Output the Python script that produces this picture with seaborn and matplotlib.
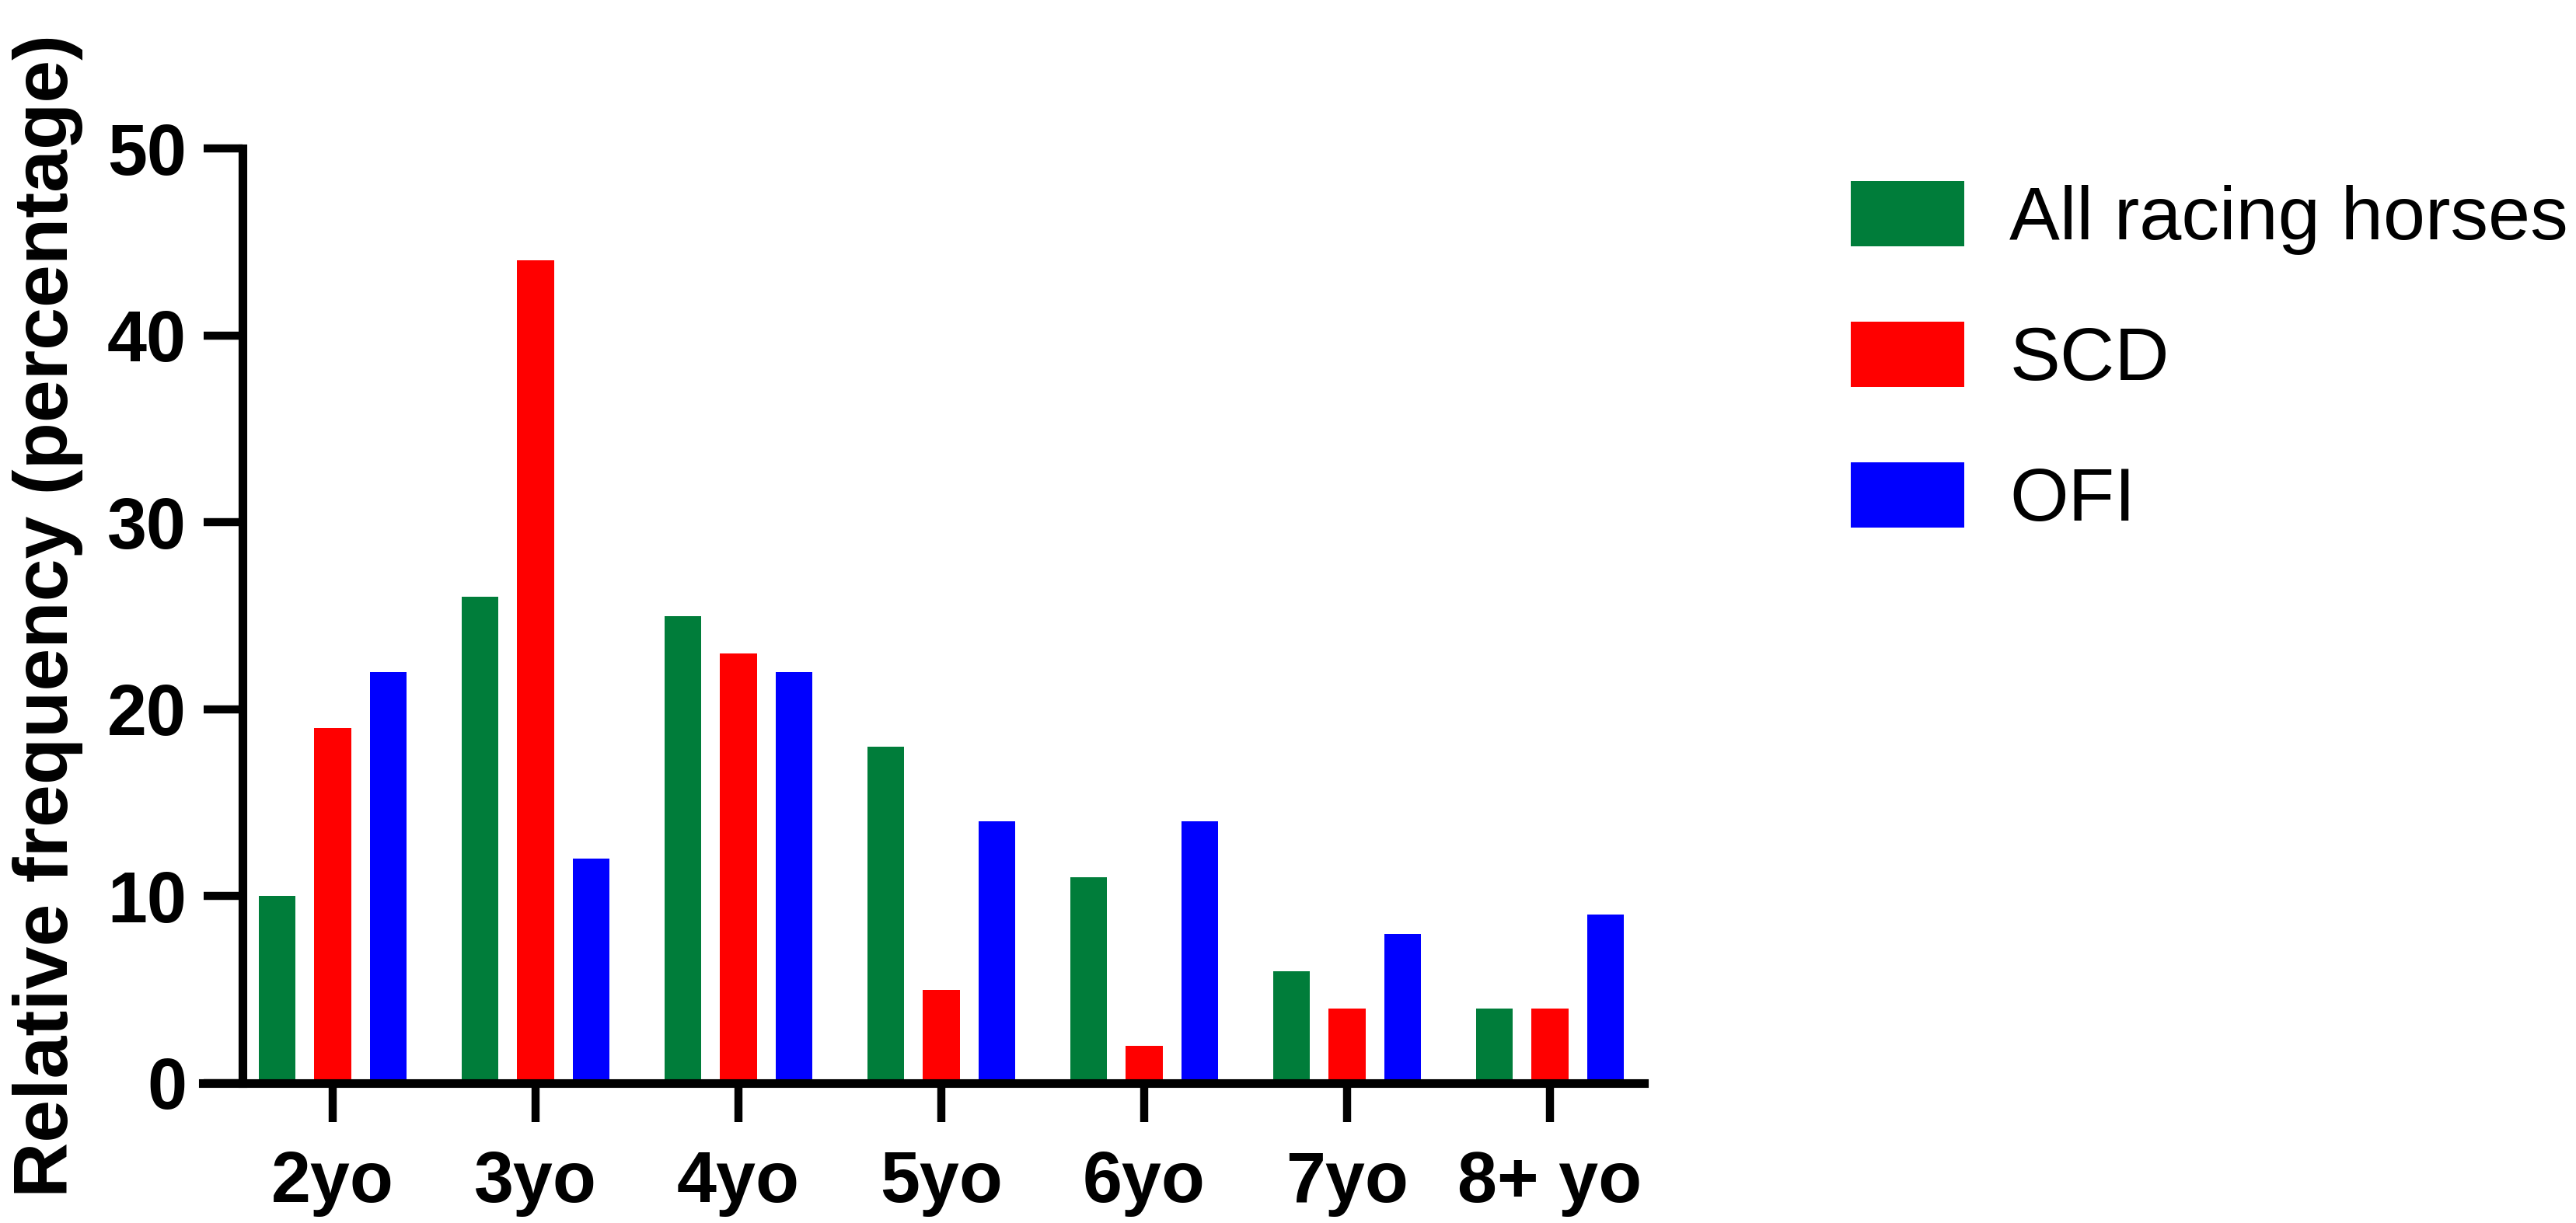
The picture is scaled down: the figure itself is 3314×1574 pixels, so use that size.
import matplotlib
matplotlib.use('Agg')
import matplotlib.pyplot as plt
import pandas as pd
import seaborn as sns

age_groups = ['2yo', '3yo', '4yo', '5yo', '6yo', '7yo', '8+ yo']
series_names = ['All racing horses', 'SCD', 'OFI']
all_racing = [10, 26, 25, 18, 11, 6, 4]
scd = [19, 44, 23, 5, 2, 4, 4]
ofi = [22, 12, 22, 14, 14, 8, 9]
bar_colors = ['#007D3A', '#FF0000', '#0000FF']

df = pd.DataFrame({
    'age': age_groups * 3,
    'group': [s for s in series_names for _ in age_groups],
    'value': all_racing + scd + ofi,
})

sns.set_style('ticks')
plt.rcParams['font.family'] = ['Liberation Sans', 'DejaVu Sans']
plt.rcParams['text.color'] = 'black'
plt.rcParams['axes.labelcolor'] = 'black'
plt.rcParams['xtick.color'] = 'black'
plt.rcParams['ytick.color'] = 'black'

fig = plt.figure(figsize=(33.14, 15.74), dpi=100)
ax = fig.add_axes([0.07876, 0.11436, 0.55944, 0.76429])

sns.barplot(data=df, x='age', y='value', hue='group', order=age_groups,
            hue_order=series_names, palette=bar_colors, width=0.823, gap=0.34,
            linewidth=0, saturation=1, ax=ax)

ax.set_xlim(-0.64, 6.464)
ax.set_ylim(0, 50)
ax.set_yticks([0, 10, 20, 30, 40, 50])

for side in ['top', 'right']:
    ax.spines[side].set_visible(False)
for side in ['left', 'bottom']:
    ax.spines[side].set_linewidth(8)
    ax.spines[side].set_color('black')
ax.spines['left'].set_position(('data', -0.444))
ax.spines['left'].set_bounds(0, 50)

ax.tick_params(axis='both', length=36, width=7.5, color='black',
               labelcolor='black')
ax.tick_params(axis='x', pad=26)
ax.tick_params(axis='y', pad=16)
for lbl in ax.get_xticklabels() + ax.get_yticklabels():
    lbl.set_fontsize(66)
    lbl.set_fontweight('bold')

ax.set_xlabel('')
ax.set_ylabel('Relative frequency (percentage)', fontsize=71, fontweight='bold',
              color='black')
ax.yaxis.set_label_coords(-0.083, 0.5)

sns.move_legend(ax, loc='upper left', bbox_to_anchor=(0.7185, 0.852),
                bbox_transform=fig.transFigure, title=None, frameon=False,
                fontsize=70, handlelength=1.5, handleheight=0.95,
                labelspacing=0.88, handletextpad=0.6, borderpad=0,
                borderaxespad=0, labelcolor='black')

fig.savefig('out.png', dpi=100, facecolor='white')
